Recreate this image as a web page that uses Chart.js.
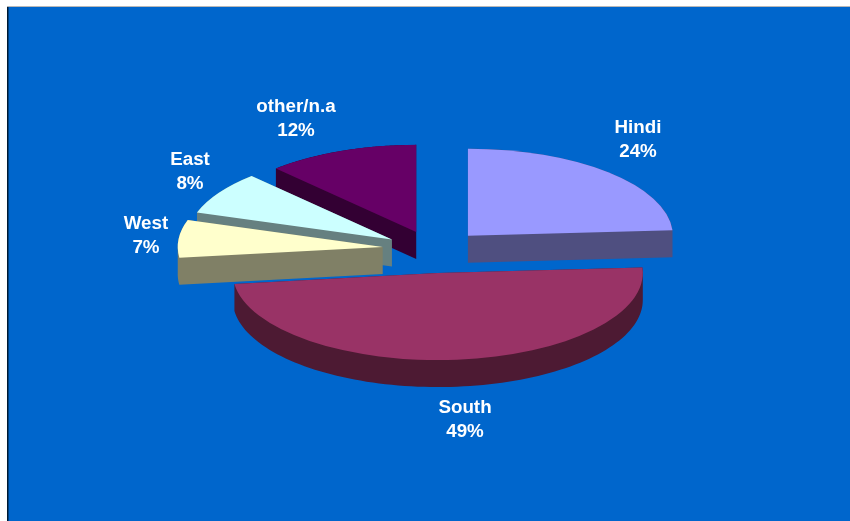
<!DOCTYPE html>
<html>
<head>
<meta charset="utf-8">
<style>
  html, body { margin: 0; padding: 0; background: #ffffff; }
  canvas { display: block; }
</style>
<script src="https://cdn.jsdelivr.net/npm/chart.js@4/dist/chart.umd.js"></script>
</head>
<body>
<canvas id="pie" width="850" height="521"></canvas>
<script>
// Language share of the audience
const categories = ['Hindi', 'South', 'West', 'East', 'other/n.a'];
const shares = [24, 49, 7, 8, 12];
const faceColors = ['#9999FF', '#993366', '#FFFFCC', '#CCFFFF', '#660066'];
const wallColors = ['#4F4F80', '#4D1A33', '#808066', '#668080', '#330033'];

// Back-to-front painting sequence of the slices, by index into categories
const paintOrder = [1, 4, 3, 2, 0];

const look = {
  tilt: 0.4244,     // vertical squash of the pie plane
  depth: 27,        // height of the extruded wall, in pixels
  explode: 51,      // radial pull of each slice, before the squash
  shift: [[0, -0.5], [0, -0.5], [0.5, -3], [2, -1], [2, 0]],
  labelAt: [[638, 140], [465, 420], [146, 236], [190, 172], [296, 119]]
};

// Draws the pie as tilted, extruded, separated slices using the arc elements
const tiltedPie = {
  id: 'tiltedPie',
  beforeDraw(chart) {
    const { ctx, width, height } = chart;
    ctx.save();
    ctx.fillStyle = '#ffffff';
    ctx.fillRect(0, 0, width, height);
    ctx.fillStyle = '#0066CC';
    ctx.fillRect(8, 7, width - 8, height - 7);
    ctx.fillStyle = '#B8B8B8';
    ctx.fillRect(7, 6, width - 7, 1);
    ctx.fillStyle = '#001A33';
    ctx.fillRect(7, 7, 1.5, height - 7);
    ctx.restore();
  },
  beforeDatasetsDraw(chart) {
    const { ctx } = chart;
    const arcs = chart.getDatasetMeta(0).data;

    const pull = (arc, i) => {
      const mid = (arc.startAngle + arc.endAngle) / 2;
      return {
        x: arc.x + Math.cos(mid) * look.explode + look.shift[i][0],
        y: arc.y + Math.sin(mid) * look.explode * look.tilt + look.shift[i][1]
      };
    };

    // Screen-space outline of a slice's top face
    const outline = (arc, i) => {
      const c = pull(arc, i);
      const pts = [c];
      const steps = 96;
      for (let s = 0; s <= steps; s++) {
        const a = arc.startAngle + (arc.endAngle - arc.startAngle) * s / steps;
        pts.push({
          x: c.x + Math.cos(a) * arc.outerRadius,
          y: c.y + Math.sin(a) * arc.outerRadius * look.tilt
        });
      }
      return pts;
    };

    // Adds a polygon with a fixed winding so that overlapping pieces merge
    const addPoly = (poly) => {
      let area = 0;
      poly.forEach((p, k) => {
        const q = poly[(k + 1) % poly.length];
        area += p.x * q.y - q.x * p.y;
      });
      const seq = area < 0 ? poly.slice().reverse() : poly;
      seq.forEach((p, k) => (k ? ctx.lineTo(p.x, p.y) : ctx.moveTo(p.x, p.y)));
      ctx.closePath();
    };

    paintOrder.forEach(i => {
      const arc = arcs[i];
      const top = outline(arc, i);
      const drop = p => ({ x: p.x, y: p.y + look.depth });

      // Wall: the slice outline swept straight down as one filled shape
      ctx.beginPath();
      addPoly(top);
      addPoly(top.map(drop));
      top.forEach((p, k) => {
        const q = top[(k + 1) % top.length];
        addPoly([p, q, drop(q), drop(p)]);
      });
      ctx.fillStyle = wallColors[i];
      ctx.fill();

      // Top face: the library's own arc element under the squash
      const c = pull(arc, i);
      ctx.save();
      ctx.translate(c.x, c.y);
      ctx.scale(1, look.tilt);
      ctx.translate(-arc.x, -arc.y);
      arc.draw(ctx);
      ctx.restore();
    });
    return false;
  },
  afterDraw(chart) {
    const { ctx } = chart;
    ctx.save();
    ctx.fillStyle = '#ffffff';
    ctx.font = 'bold 18.8px "Liberation Sans", Arial, sans-serif';
    ctx.textAlign = 'center';
    ctx.textBaseline = 'middle';
    categories.forEach((name, i) => {
      const [x, y] = look.labelAt[i];
      ctx.fillText(name, x, y - 12.25);
      ctx.fillText(shares[i] + '%', x, y + 12.25);
    });
    ctx.restore();
  }
};

new Chart(document.getElementById('pie'), {
  type: 'pie',
  data: {
    labels: categories,
    datasets: [{
      data: shares,
      backgroundColor: faceColors,
      borderWidth: 0,
      radius: 205
    }]
  },
  options: {
    responsive: false,
    animation: false,
    layout: { padding: { left: 16, bottom: 17 } },
    plugins: { legend: { display: false }, tooltip: { enabled: false } }
  },
  plugins: [tiltedPie]
});
</script>
</body>
</html>
